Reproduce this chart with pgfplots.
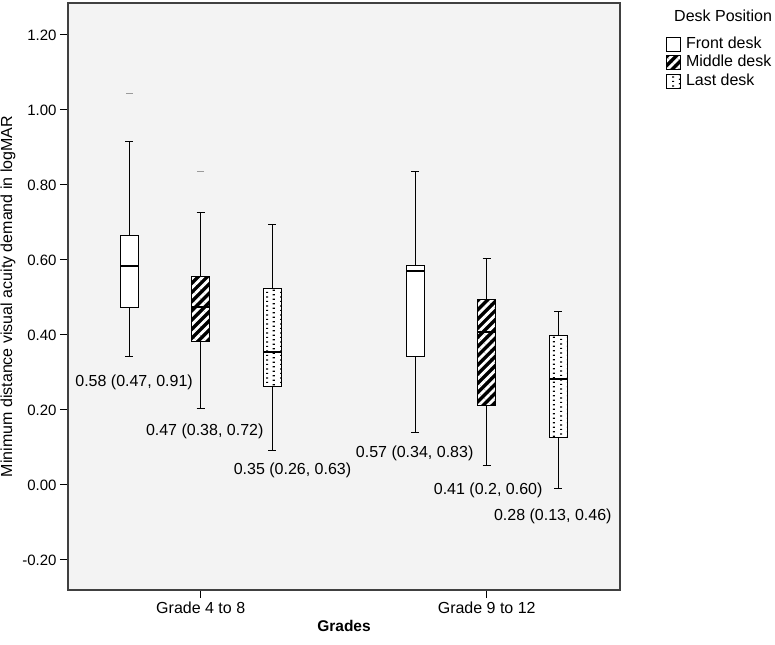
\documentclass[border=0pt]{standalone}
\usepackage{fontspec}
\setmainfont{Liberation Sans}
\usepackage{pgfplots}
\pgfplotsset{compat=1.18}
\usepgfplotslibrary{statistics}
\usetikzlibrary{patterns.meta}

\definecolor{plotbg}{HTML}{F3F3F3}
\definecolor{axisgray}{HTML}{404040}
\definecolor{outgray}{HTML}{9A9A9A}

% staggered small dashes, like the SPSS "dots" fill
\tikzdeclarepattern{
  name=spssdots, type=uncolored,
  bottom left={(0bp,0bp)}, top right={(14bp,9.4bp)},
  tile size={(14bp,9.4bp)},
  code={
    \fill (0bp,0bp) rectangle (2.2bp,1.3bp);
    \fill (0bp,4.7bp) rectangle (2.2bp,6bp);
    \fill (7bp,2.35bp) rectangle (9.2bp,3.65bp);
    \fill (7bp,7.05bp) rectangle (9.2bp,8.35bp);
  }
}

\newcommand{\fbig}{\fontsize{16bp}{19bp}\selectfont}
\newcommand{\ftick}{\fontsize{15bp}{18bp}\selectfont}

\tikzset{
  frontfill/.style={fill=white},
  middlefill/.style={preaction={fill=black},
    pattern={Lines[angle=45,distance=6.5bp,line width=2.8bp]}, pattern color=white},
  lastfill/.style={preaction={fill=white}, pattern=spssdots, pattern color=black},
}
\pgfplotsset{
  spssbox/.style={
    solid, draw=black, line width=0.8bp, mark=-, mark size=3.5bp,
    mark options={draw=outgray, line width=0.9bp},
    boxplot/draw direction=y,
    boxplot/box extend=0.063,
    boxplot/whisker extend=0.028,
    boxplot/every median/.style={line width=2bp},
  },
}

\begin{document}
\begin{tikzpicture}
\begin{axis}[
  name=ax,
  scale only axis,
  width=552bp, height=587bp,
  xmin=0.536, xmax=2.466,
  ymin=-0.28, ymax=1.285,
  axis background/.style={fill=plotbg},
  axis line style={draw=axisgray, line width=1.2bp},
  xtick={1,2},
  xticklabels={Grade 4 to 8, Grade 9 to 12},
  ytick={-0.2,0,0.2,0.4,0.6,0.8,1.0,1.2},
  tick align=outside,
  xtick pos=bottom, ytick pos=left,
  major tick length=8bp,
  tick style={draw=black, line width=1bp},
  yticklabel style={font=\ftick,
    /pgf/number format/.cd, fixed, fixed zerofill, precision=2, assume math mode=true},
  xticklabel style={font=\fbig},
  xlabel={\textbf{Grades}},
  xlabel style={font=\fontsize{15.5bp}{18bp}\selectfont},
  ylabel={Minimum distance visual acuity demand in logMAR},
  ylabel style={font=\fbig},
  legend style={at={(rel axis cs:1,1)}, anchor=north west,
    xshift=46bp, yshift=-33bp, draw=none, fill=none, inner sep=0pt,
    font=\fbig, row sep=3bp,
    nodes={inner sep=0pt, text height=12bp, text depth=3.5bp},
    /tikz/column sep=5bp},
  legend cell align=left,
  legend image code/.code={\draw[#1] (0bp,-7bp) rectangle (14bp,7bp);},
]

% Grade 4 to 8
\addplot+[spssbox, boxplot/every box/.style={frontfill}, forget plot,
  boxplot prepared={draw position=0.75, lower whisker=0.343, lower quartile=0.473,
    median=0.585, upper quartile=0.666, upper whisker=0.917}]
  table[row sep=\\, y index=0] {data\\ 1.045\\};
\addplot+[spssbox, boxplot/every box/.style={middlefill}, forget plot,
  boxplot prepared={draw position=1, lower whisker=0.203, lower quartile=0.383,
    median=0.475, upper quartile=0.555, upper whisker=0.726}]
  table[row sep=\\, y index=0] {data\\ 0.837\\};
\addplot+[spssbox, boxplot/every box/.style={lastfill}, forget plot,
  boxplot prepared={draw position=1.25, lower whisker=0.091, lower quartile=0.262,
    median=0.354, upper quartile=0.525, upper whisker=0.696}]
  coordinates {};

% Grade 9 to 12
\addplot+[spssbox, boxplot/every box/.style={frontfill}, forget plot,
  boxplot prepared={draw position=1.75, lower whisker=0.141, lower quartile=0.343,
    median=0.570, upper quartile=0.585, upper whisker=0.837}]
  coordinates {};
\addplot+[spssbox, boxplot/every box/.style={middlefill}, forget plot,
  boxplot prepared={draw position=2, lower whisker=0.051, lower quartile=0.211,
    median=0.409, upper quartile=0.494, upper whisker=0.605}]
  coordinates {};
\addplot+[spssbox, boxplot/every box/.style={lastfill}, forget plot,
  boxplot prepared={draw position=2.25, lower whisker=-0.010, lower quartile=0.127,
    median=0.283, upper quartile=0.399, upper whisker=0.464}]
  coordinates {};

\addlegendimage{draw=black, line width=0.8bp, frontfill}
\addlegendentry{Front desk}
\addlegendimage{draw=black, line width=0.8bp, middlefill}
\addlegendentry{Middle desk}
\addlegendimage{draw=black, line width=0.8bp, lastfill}
\addlegendentry{Last desk}

% median (IQR) annotations
\node[font=\fbig] at (axis cs:0.767,0.274) {0.58 (0.47, 0.91)};
\node[font=\fbig] at (axis cs:1.014,0.142) {0.47 (0.38, 0.72)};
\node[font=\fbig] at (axis cs:1.321,0.038) {0.35 (0.26, 0.63)};
\node[font=\fbig] at (axis cs:1.748,0.083) {0.57 (0.34, 0.83)};
\node[font=\fbig] at (axis cs:2.005,-0.015) {0.41 (0.2, 0.60)};
\node[font=\fbig] at (axis cs:2.231,-0.084) {0.28 (0.13, 0.46)};
\end{axis}

\node[anchor=west, font=\fbig, inner sep=0pt] at ([xshift=54bp,yshift=-13bp]ax.north east) {Desk Position};

\pgfresetboundingbox
\path ([xshift=-68bp,yshift=-55bp]ax.south west) rectangle ([xshift=155bp,yshift=3bp]ax.north east);
\end{tikzpicture}
\end{document}
